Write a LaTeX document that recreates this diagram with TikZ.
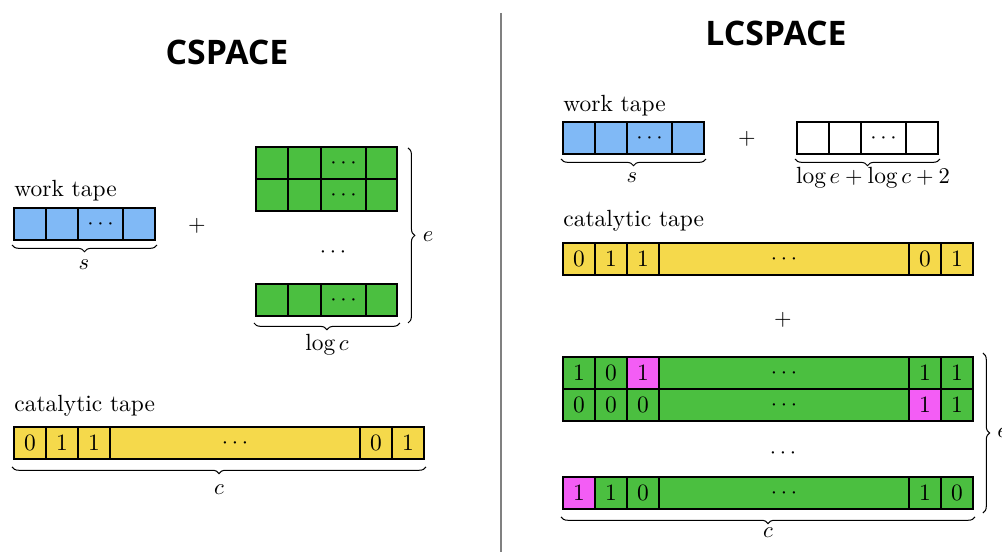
\documentclass[tikz,border=0pt]{standalone}
\usepackage{fontspec}
\newfontfamily\titlefont{Open Sans}
\usetikzlibrary{decorations.pathreplacing}
\definecolor{tapeblue}{HTML}{80B9F6}
\definecolor{tapegreen}{HTML}{4BBF40}
\definecolor{tapeyellow}{HTML}{F5D94B}
\definecolor{tapepink}{HTML}{F35DF5}
\tikzset{
  every node/.append style={font=\fontsize{10.4}{12.5}\selectfont},
  cell/.style={draw=black, line width=0.45pt, inner sep=0pt, outer sep=0pt, anchor=center},
  tapebrace/.style={decorate, decoration={brace, mirror, amplitude=3pt}, line width=0.45pt},
  sidebrace/.style={decorate, decoration={brace, amplitude=3pt}, line width=0.45pt},
  lbl/.style={inner sep=0pt},
  ttl/.style={inner sep=0pt, font=\titlefont\bfseries\fontsize{15}{18}\selectfont},
}
\newcommand\tapecell[7]{%
  \node[cell, fill=#6, minimum width={(#3-#2)*0.444pt}, minimum height={(#5-#4)*0.444pt}] (#1) at ({(#2+#3)/2},{(#4+#5)/2}) {#7};}
\begin{document}
\begin{tikzpicture}[x=0.444pt, y=-0.444pt]
\useasboundingbox (0,0) rectangle (1002,552);
% titles
\node[ttl] (t1) at (227,52) {CSPACE};
\node[ttl] (t2) at (776,33) {LCSPACE};
% divider
\coordinate (dtop) at (501,13);
\coordinate (dbot) at (501,552);
\draw[gray, line width=0.7pt] (dtop) -- (dbot);

% ---------- left: CSPACE ----------
\node[lbl, anchor=base west] (lwl) at (14,197) {work tape};
\tapecell{lw1}{14}{46}{208}{240}{tapeblue}{}
\tapecell{lw2}{46}{78}{208}{240}{tapeblue}{}
\tapecell{lw3}{78}{123}{208}{240}{tapeblue}{$\cdots$}
\tapecell{lw4}{123}{155}{208}{240}{tapeblue}{}
\draw[tapebrace] ([xshift=-0.9pt,yshift=-2.2pt]lw1.south west) -- ([xshift=0.9pt,yshift=-2.2pt]lw4.south east);
\node[lbl] (ls) at (84,265) {$s$};

\node[lbl] (lplus) at (197,226) {$+$};

\foreach \r/\ya/\yb in {1/147/179, 2/179/211, 3/284/316}{
  \tapecell{lg\r a}{256}{288}{\ya}{\yb}{tapegreen}{}
  \tapecell{lg\r b}{288}{321}{\ya}{\yb}{tapegreen}{}
  \tapecell{lg\r c}{321}{366}{\ya}{\yb}{tapegreen}{$\cdots$}
  \tapecell{lg\r d}{366}{397}{\ya}{\yb}{tapegreen}{}
}
\node[lbl] (lgdots) at (333,252) {$\cdots$};
\draw[sidebrace] ([xshift=4.9pt,yshift=-0.4pt]lg1d.north east) -- ([xshift=4.9pt,yshift=-3.1pt]lg3d.south east);
\node[lbl] (le) at (428,237) {$e$};
\draw[tapebrace] ([xshift=-0.9pt,yshift=-3.1pt]lg3a.south west) -- ([xshift=1.3pt,yshift=-3.1pt]lg3d.south east);
\node[lbl] (llogc) at (327,345) {$\log c$};

\node[lbl, anchor=base west] (lcl) at (14,412) {catalytic tape};
\tapecell{ly1}{14}{46}{427}{459}{tapeyellow}{0}
\tapecell{ly2}{46}{78}{427}{459}{tapeyellow}{1}
\tapecell{ly3}{78}{110}{427}{459}{tapeyellow}{1}
\tapecell{ly4}{110}{360}{427}{459}{tapeyellow}{$\cdots$}
\tapecell{ly5}{360}{392}{427}{459}{tapeyellow}{0}
\tapecell{ly6}{392}{424}{427}{459}{tapeyellow}{1}
\draw[tapebrace] ([xshift=-0.9pt,yshift=-3.5pt]ly1.south west) -- ([xshift=0.9pt,yshift=-3.5pt]ly6.south east);
\node[lbl] (lc) at (219,490) {$c$};

% ---------- right: LCSPACE ----------
\node[lbl, anchor=base west] (rwl) at (563,112) {work tape};
\tapecell{rw1}{563}{595}{122}{154}{tapeblue}{}
\tapecell{rw2}{595}{627}{122}{154}{tapeblue}{}
\tapecell{rw3}{627}{672}{122}{154}{tapeblue}{$\cdots$}
\tapecell{rw4}{672}{704}{122}{154}{tapeblue}{}
\draw[tapebrace] ([xshift=-0.9pt,yshift=-2.2pt]rw1.south west) -- ([xshift=0.9pt,yshift=-2.2pt]rw4.south east);
\node[lbl] (rs) at (632,178) {$s$};

\node[lbl] (rplus1) at (747,139) {$+$};

\tapecell{rx1}{797}{829}{122}{154}{white}{}
\tapecell{rx2}{829}{861}{122}{154}{white}{}
\tapecell{rx3}{861}{906}{122}{154}{white}{$\cdots$}
\tapecell{rx4}{906}{938}{122}{154}{white}{}
\draw[tapebrace] ([xshift=-0.9pt,yshift=-2.2pt]rx1.south west) -- ([xshift=0.9pt,yshift=-2.2pt]rx4.south east);
\node[lbl] (rlog) at (873,178) {$\log e + \log c + 2$};

\node[lbl, anchor=base west] (rcl) at (563,227) {catalytic tape};
\tapecell{ry1}{563}{595}{243}{275}{tapeyellow}{0}
\tapecell{ry2}{595}{627}{243}{275}{tapeyellow}{1}
\tapecell{ry3}{627}{659}{243}{275}{tapeyellow}{1}
\tapecell{ry4}{659}{909}{243}{275}{tapeyellow}{$\cdots$}
\tapecell{ry5}{909}{941}{243}{275}{tapeyellow}{0}
\tapecell{ry6}{941}{973}{243}{275}{tapeyellow}{1}

\node[lbl] (rplus2) at (783,320) {$+$};

% row 1
\tapecell{rg1a}{563}{595}{357}{389}{tapegreen}{1}
\tapecell{rg1b}{595}{627}{357}{389}{tapegreen}{0}
\tapecell{rg1c}{627}{659}{357}{389}{tapepink}{1}
\tapecell{rg1d}{659}{909}{357}{389}{tapegreen}{$\cdots$}
\tapecell{rg1e}{909}{941}{357}{389}{tapegreen}{1}
\tapecell{rg1f}{941}{973}{357}{389}{tapegreen}{1}
% row 2
\tapecell{rg2a}{563}{595}{389}{421}{tapegreen}{0}
\tapecell{rg2b}{595}{627}{389}{421}{tapegreen}{0}
\tapecell{rg2c}{627}{659}{389}{421}{tapegreen}{0}
\tapecell{rg2d}{659}{909}{389}{421}{tapegreen}{$\cdots$}
\tapecell{rg2e}{909}{941}{389}{421}{tapepink}{1}
\tapecell{rg2f}{941}{973}{389}{421}{tapegreen}{1}
% dots
\node[lbl] (rgdots) at (783,453) {$\cdots$};
% row 3
\tapecell{rg3a}{563}{595}{477}{509}{tapepink}{1}
\tapecell{rg3b}{595}{627}{477}{509}{tapegreen}{1}
\tapecell{rg3c}{627}{659}{477}{509}{tapegreen}{0}
\tapecell{rg3d}{659}{909}{477}{509}{tapegreen}{$\cdots$}
\tapecell{rg3e}{909}{941}{477}{509}{tapegreen}{1}
\tapecell{rg3f}{941}{973}{477}{509}{tapegreen}{0}

\draw[sidebrace] ([xshift=4.4pt,yshift=1.8pt]rg1f.north east) -- ([xshift=4.4pt,yshift=-1.8pt]rg3f.south east);
\node[lbl, anchor=west] (re) at (997,433) {$e$};
\draw[tapebrace] ([xshift=-0.9pt,yshift=-3.5pt]rg3a.south west) -- ([xshift=0.9pt,yshift=-3.5pt]rg3f.south east);
\node[lbl] (rc) at (768,533) {$c$};
\end{tikzpicture}
\end{document}
